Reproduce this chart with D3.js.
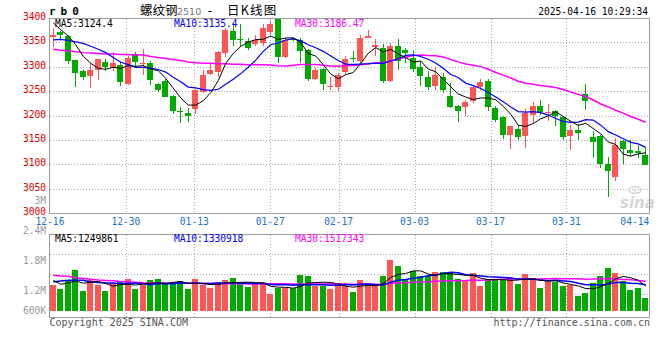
<!DOCTYPE html>
<html><head><meta charset="utf-8">
<script src="https://cdn.jsdelivr.net/npm/d3@7"></script>
<style>html,body{margin:0;padding:0;background:#fff}svg{display:block}</style>
</head><body>
<svg id="c" width="660" height="360"></svg>
<script>
// ---------------- data ----------------
const dates = ["12-16","12-17","12-18","12-19","12-20","12-23","12-24","12-25","12-26","12-27",
"12-30","12-31","01-02","01-03","01-06","01-07","01-08","01-09","01-10","01-13",
"01-14","01-15","01-16","01-17","01-20","01-21","01-22","01-23","01-24","01-27",
"02-05","02-06","02-07","02-10","02-11","02-12","02-13","02-14","02-17","02-18",
"02-19","02-20","02-21","02-24","02-25","02-26","02-27","02-28","03-03","03-04",
"03-05","03-06","03-07","03-10","03-11","03-12","03-13","03-14","03-17","03-18",
"03-19","03-20","03-21","03-24","03-25","03-26","03-27","03-28","03-31","04-01",
"04-02","04-03","04-07","04-08","04-09","04-10","04-11","04-14","04-15","04-16"];

const open  = [3362,3372,3364,3314,3292,3283,3294,3310,3301,3305,3266,3328,3307,3309,3266,3271,3242,3210,3207,3214,
3250,3287,3290,3329,3374,3358,3353,3347,3349,3372,3398,3321,3358,3355,3336,3275,3296,3260,3260,3290,
3320,3312,3360,3342,3340,3271,3343,3335,3319,3301,3280,3261,3281,3242,3221,3218,3230,3260,3271,3216,
3197,3161,3173,3158,3203,3221,3206,3211,3197,3158,3172,3246,3156,3160,3102,3074,3148,3131,3129,3120];
const high  = [3381,3374,3367,3315,3295,3309,3317,3317,3331,3310,3323,3331,3338,3312,3268,3275,3243,3218,3216,3255,
3295,3309,3333,3381,3391,3388,3360,3367,3388,3395,3400,3360,3360,3360,3338,3299,3299,3280,3288,3323,
3333,3367,3377,3357,3347,3349,3357,3340,3336,3312,3292,3301,3288,3268,3222,3233,3261,3276,3275,3220,
3199,3179,3182,3214,3228,3232,3225,3212,3199,3182,3184,3266,3170,3161,3116,3155,3150,3151,3141,3134];
const low   = [3342,3355,3307,3259,3273,3257,3274,3292,3292,3262,3264,3302,3285,3263,3250,3239,3205,3185,3187,3205,
3248,3285,3281,3322,3344,3344,3336,3344,3343,3367,3309,3319,3354,3309,3271,3273,3254,3254,3249,3287,
3310,3309,3359,3323,3268,3269,3295,3309,3290,3261,3254,3254,3247,3216,3187,3201,3227,3254,3210,3187,
3153,3133,3151,3135,3185,3203,3189,3180,3150,3131,3150,3213,3114,3093,3033,3066,3102,3118,3113,3100];
const close = [3367,3366,3312,3288,3280,3294,3316,3301,3309,3269,3320,3310,3309,3273,3253,3240,3211,3208,3200,3253,
3285,3294,3331,3377,3355,3356,3340,3355,3381,3388,3321,3355,3357,3333,3275,3295,3266,3262,3285,3316,
3317,3360,3364,3345,3271,3343,3312,3329,3297,3283,3260,3285,3253,3218,3210,3228,3260,3269,3218,3191,
3161,3179,3156,3206,3221,3209,3209,3199,3157,3172,3166,3231,3146,3102,3088,3141,3132,3125,3125,3100];
const volume = [1333,1128,1590,2103,1026,1590,1333,1026,1421,1472,1641,1128,1333,1590,1641,1421,1421,1538,1128,1641,
1333,1195,1503,1590,1692,1421,1231,1421,1421,887,1195,1195,1195,1862,1810,1282,1282,1128,1451,1282,
990,1590,1297,1385,1795,2615,2308,1590,2051,1795,1795,2000,2000,2000,1641,1590,1949,1282,1641,1641,
1590,1744,1385,1897,1692,1179,1590,1487,1282,1333,769,923,1436,1795,2205,1949,1538,1077,1179,667].map(v => v * 1000);

// moving-average values at the left edge (history before the first visible day)
const ma5Head  = [3391,3377,3364,3346];
const ma10Head = [3356,3357,3355,3352,3349,3343,3337,3330,3320];
const ma30Head = [3337,3335,3334,3332,3330,3329,3328,3327,3327,3326,3326,3325,3325,3322,3320,3318,3316,3314,3311,3309,
3308,3308,3307,3307,3306,3306,3305,3305,3305];
const volMa5Head  = [1590000,1380000,1450000,1550000];
const volMa10Head = [1500000,1550000,1590000,1590000,1590000,1500000,1470000,1450000,1440000];
const volMa30Head = [1850000,1810000,1790000,1720000,1680000,1640000,1600000,1580000,1560000,1520000,1500000,1480000,1460000,1450000,1450000,1440000,1440000,1440000,1430000,1430000,
1420000,1420000,1410000,1410000,1410000,1410000,1400000,1400000,1400000];

const priceTicks = [3000,3050,3100,3150,3200,3250,3300,3350,3400];
const dateTicks = ["12-16","12-30","01-13","01-27","02-17","03-03","03-17","03-31","04-14"];
const volTickLabels = ["2.4M","1.8M","1.2M","600K"];
const maLabels = ["MA5:3124.4","MA10:3135.4","MA30:3186.47"];
const volMaLabels = ["MA5:1249861","MA10:1330918","MA30:1517343"];
const titleText = {code:"rb0", name:"螺纹钢", contract:"2510", kind:"日K线图", time:"2025-04-16 10:29:34"};

// ---------------- layout ----------------
const L = 49.5, R = 649.5;
const mainTop = 18.5, mainBot = 213.5;
const volTop = 234.5, volBot = 317.5, volBase = 311;
const RED = "#ff5555", GREEN = "#00aa00";
const MONO = "DejaVu Sans Mono, monospace";
const FS = 9.6;

const svg = d3.select("#c");
const n = dates.length;
const idx = d3.range(n);
const x = d3.scaleBand().domain(idx).range([L, R]).padding(0);
const cx = i => x(i) + x.bandwidth() / 2;
const xTick = d3.scaleLinear().domain([0, n - 1]).range([50, 650]);
const y = d3.scaleLinear().domain([3000, 3400]).range([mainBot, mainTop]);
const yv = d3.scaleLinear().domain([0, 3950000]).range([volBase, volTop]);

function ma(values, k, head) {
  return values.map((v, i) => i < head.length ? head[i] : d3.mean(values.slice(i - k + 1, i + 1)));
}

// ---------------- grid ----------------
const grid = svg.append("g").attr("stroke", "#aaa").attr("stroke-dasharray", "1,2")
  .attr("shape-rendering", "crispEdges").attr("fill", "none");
priceTicks.slice(1, -1).forEach(p => {
  const yy = Math.floor(y(p)) + 0.5;
  grid.append("line").attr("x1", L).attr("x2", R).attr("y1", yy).attr("y2", yy);
});
[0.25, 0.5, 0.75].forEach(f => {
  const yy = Math.floor(volTop + (315 - volTop) * f) + 0.5;
  grid.append("line").attr("x1", L).attr("x2", R).attr("y1", yy).attr("y2", yy);
});
dateTicks.slice(1, -1).forEach(d => {
  const xx = Math.round(xTick(dates.indexOf(d))) + 0.5;
  grid.append("line").attr("x1", xx).attr("x2", xx).attr("y1", mainTop).attr("y2", mainBot);
  grid.append("line").attr("x1", xx).attr("x2", xx).attr("y1", volTop).attr("y2", volBot);
});

// watermark
const wm = svg.append("g").attr("fill", "#d6d6d6");
wm.append("text").attr("x", 620).attr("y", 208).attr("font-family", "DejaVu Sans")
  .attr("font-weight", "bold").attr("font-style", "italic").attr("font-size", 15).text("sina");
wm.append("ellipse").attr("cx", 635).attr("cy", 190).attr("rx", 6).attr("ry", 3.2)
  .attr("fill", "none").attr("stroke", "#d6d6d6").attr("stroke-width", 1.6);
wm.append("circle").attr("cx", 635).attr("cy", 190).attr("r", 1.6);

// ---------------- candles ----------------
const cg = svg.append("g").attr("shape-rendering", "crispEdges");
idx.forEach(i => {
  const up = close[i] >= open[i];
  const col = up ? RED : GREEN;
  const c = Math.floor(cx(i));
  const left = c - 3;
  cg.append("rect").attr("x", c).attr("width", 1)
    .attr("y", y(high[i])).attr("height", Math.max(1, y(low[i]) - y(high[i]))).attr("fill", col);
  const top = y(Math.max(open[i], close[i])), bot = y(Math.min(open[i], close[i]));
  cg.append("rect").attr("x", left).attr("width", 6)
    .attr("y", top).attr("height", Math.max(1, bot - top)).attr("fill", col);
});

// main MA lines
const m5 = ma(close, 5, ma5Head), m10 = ma(close, 10, ma10Head), m30 = ma(close, 30, ma30Head);
const line = vals => d3.line().x(i => cx(i)).y(i => y(vals[i]))(idx);
svg.append("path").attr("d", line(m30)).attr("fill", "none").attr("stroke", "#ff00ff").attr("stroke-width", 1.5);
svg.append("path").attr("d", line(m10)).attr("fill", "none").attr("stroke", "#0000ff").attr("stroke-width", 1.2);
svg.append("path").attr("d", line(m5)).attr("fill", "none").attr("stroke", "#000").attr("stroke-width", 1);

// ---------------- volume ----------------
const vg = svg.append("g").attr("shape-rendering", "crispEdges");
idx.forEach(i => {
  const up = close[i] >= open[i];
  const c = Math.floor(cx(i));
  vg.append("rect").attr("x", c - 3).attr("width", 6)
    .attr("y", yv(volume[i])).attr("height", volBase - yv(volume[i])).attr("fill", up ? RED : GREEN);
});
const v5 = ma(volume, 5, volMa5Head), v10 = ma(volume, 10, volMa10Head), v30 = ma(volume, 30, volMa30Head);
const vline = vals => d3.line().x(i => cx(i)).y(i => yv(vals[i]))(idx);
svg.append("path").attr("d", vline(v30)).attr("fill", "none").attr("stroke", "#ff00ff").attr("stroke-width", 1.5);
svg.append("path").attr("d", vline(v10)).attr("fill", "none").attr("stroke", "#0000ff").attr("stroke-width", 1.5);
svg.append("path").attr("d", vline(v5)).attr("fill", "none").attr("stroke", "#000").attr("stroke-width", 1);

// ---------------- borders ----------------
const bg = svg.append("g").attr("fill", "none").attr("stroke", "#999").attr("shape-rendering", "crispEdges");
bg.append("rect").attr("x", L).attr("y", mainTop).attr("width", R - L).attr("height", mainBot - mainTop);
bg.append("rect").attr("x", L).attr("y", volTop).attr("width", R - L).attr("height", volBot - volTop);

// ---------------- text ----------------
const T = (xx, yy, s, opt = {}) => svg.append("text").attr("x", xx).attr("y", yy)
  .attr("font-family", opt.family || MONO).attr("font-size", opt.size || FS)
  .attr("fill", opt.fill || "#000").attr("text-anchor", opt.anchor || "start")
  .attr("font-weight", opt.weight || "normal").attr("letter-spacing", opt.ls || 0).text(s);

priceTicks.forEach(p => T(46, Math.floor(y(p)) + 2, p, {anchor: "end", fill: "#e60000"}));
T(46, 204, "3M", {anchor: "end", fill: "#999"});
dateTicks.forEach(d => T(xTick(dates.indexOf(d)), 225, d, {anchor: "middle", fill: "#1874cd"}));
volTickLabels.forEach((s, k) => T(46, Math.min(234 + 30 * k, 314), s, {anchor: "end", fill: "#999"}));

const maX = [55, 174, 295], maCol = ["#000", "#0000ff", "#ff00ff"];
maLabels.forEach((s, k) => T(maX[k], 27, s, {fill: maCol[k]}));
volMaLabels.forEach((s, k) => T(maX[k], 242, s, {fill: maCol[k]}));

T(49, 15, titleText.code, {weight: "bold", size: 11, ls: 5});
T(140, 14.5, titleText.name, {family: "Noto Sans CJK SC", size: 12.5});
T(177, 15, titleText.contract, {family: "DejaVu Sans", size: 9.5, fill: "#777"});
T(210, 14.5, "-", {family: "DejaVu Sans", size: 12, anchor: "middle"});
T(227, 14.5, titleText.kind, {family: "Noto Sans CJK SC", size: 12.5, ls: 1.2});
T(648, 15, titleText.time, {anchor: "end"});

T(49.5, 326, "Copyright 2025 SINA.COM", {size: 10, fill: "#555"});
T(650, 326, "http://finance.sina.com.cn", {size: 10, fill: "#555", anchor: "end"});
</script>
</body></html>
